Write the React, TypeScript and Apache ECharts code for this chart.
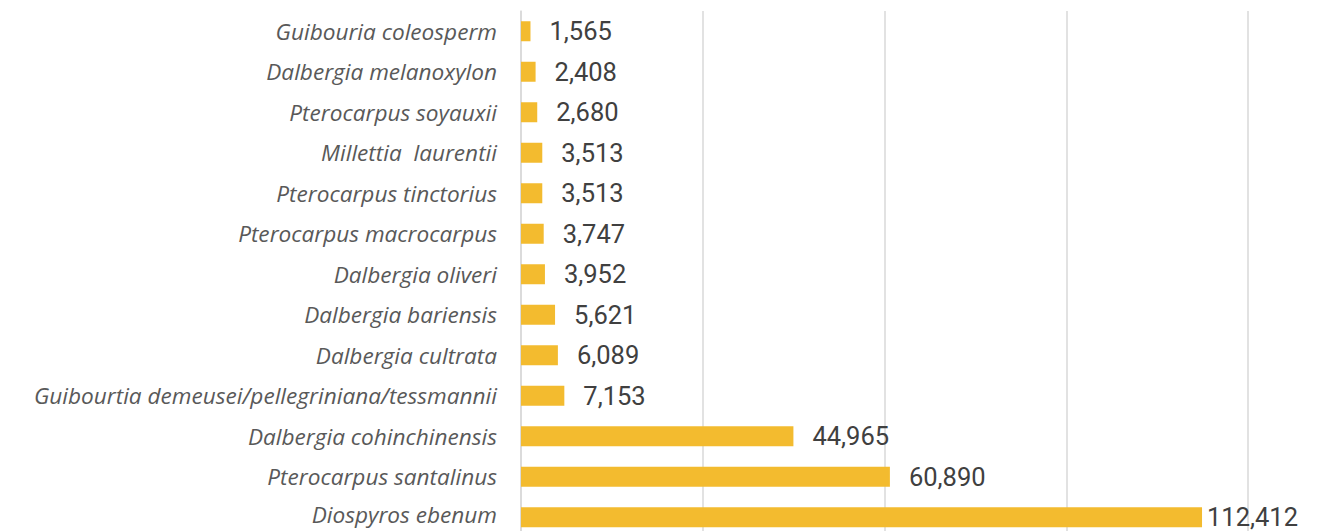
import React, { useEffect, useRef } from "react";
import * as echarts from "echarts";

const categories: string[] = [
  "Guibouria coleosperm",
  "Dalbergia melanoxylon",
  "Pterocarpus soyauxii",
  "Millettia  laurentii",
  "Pterocarpus tinctorius",
  "Pterocarpus macrocarpus",
  "Dalbergia oliveri",
  "Dalbergia bariensis",
  "Dalbergia cultrata",
  "Guibourtia demeusei/pellegriniana/tessmannii",
  "Dalbergia cohinchinensis",
  "Pterocarpus santalinus",
  "Diospyros ebenum",
];

const values: number[] = [
  1565, 2408, 2680, 3513, 3513, 3747, 3952, 5621, 6089, 7153, 44965, 60890, 112412,
];

const axisMax = 120000;
const axisInterval = 30000;

export default function App() {
  const ref = useRef<HTMLDivElement>(null);
  useEffect(() => {
    if (!ref.current) return;
    const chart = echarts.init(ref.current, undefined, { renderer: "svg" });
    const lastIdx = values.length - 1;
    const catFont = {
      fontFamily: "Open Sans",
      fontStyle: "italic",
      fontSize: 22.6,
      color: "#595959",
    };
    chart.setOption({
      animation: false,
      backgroundColor: "#ffffff",
      grid: { left: 521, top: 11, width: 727, height: 526.5, containLabel: false },
      xAxis: {
        type: "value",
        min: 0,
        max: axisMax,
        interval: axisInterval,
        axisLabel: { show: false },
        axisLine: { show: false },
        axisTick: { show: false },
        splitLine: { show: true, lineStyle: { color: "#d9d9d9", width: 1.5 } },
      },
      yAxis: {
        type: "category",
        inverse: true,
        data: categories,
        axisLine: { show: true, lineStyle: { color: "#d9d9d9", width: 1.5 } },
        axisTick: { show: false },
        axisLabel: {
          margin: 24,
          ...catFont,
          lineHeight: 18,
          formatter: (v: string, i: number) => (i === lastIdx ? `{l|${v}}` : v),
          rich: {
            l: { ...catFont, lineHeight: 18, padding: [0, 0, 6, 0] },
          },
        },
      },
      series: [
        {
          type: "bar",
          barWidth: 20,
          itemStyle: { color: "#f3bb2f" },
          data: values.map((v, i) =>
            i === lastIdx ? { value: v, label: { distance: 5 } } : v
          ),
          label: {
            show: true,
            position: "right",
            distance: 19,
            fontFamily: "Roboto",
            fontSize: 25.5,
            lineHeight: 20,
            color: "#404040",
            formatter: (p: any) => Number(p.value).toLocaleString("en-US"),
          },
        },
      ],
    });
    return () => chart.dispose();
  }, []);
  return (
    <div
      style={{ position: "fixed", left: 0, top: 0, width: 1335, height: 531, overflow: "hidden", background: "#fff" }}
    >
      <div ref={ref} style={{ width: 1335, height: 550 }} />
    </div>
  );
}
